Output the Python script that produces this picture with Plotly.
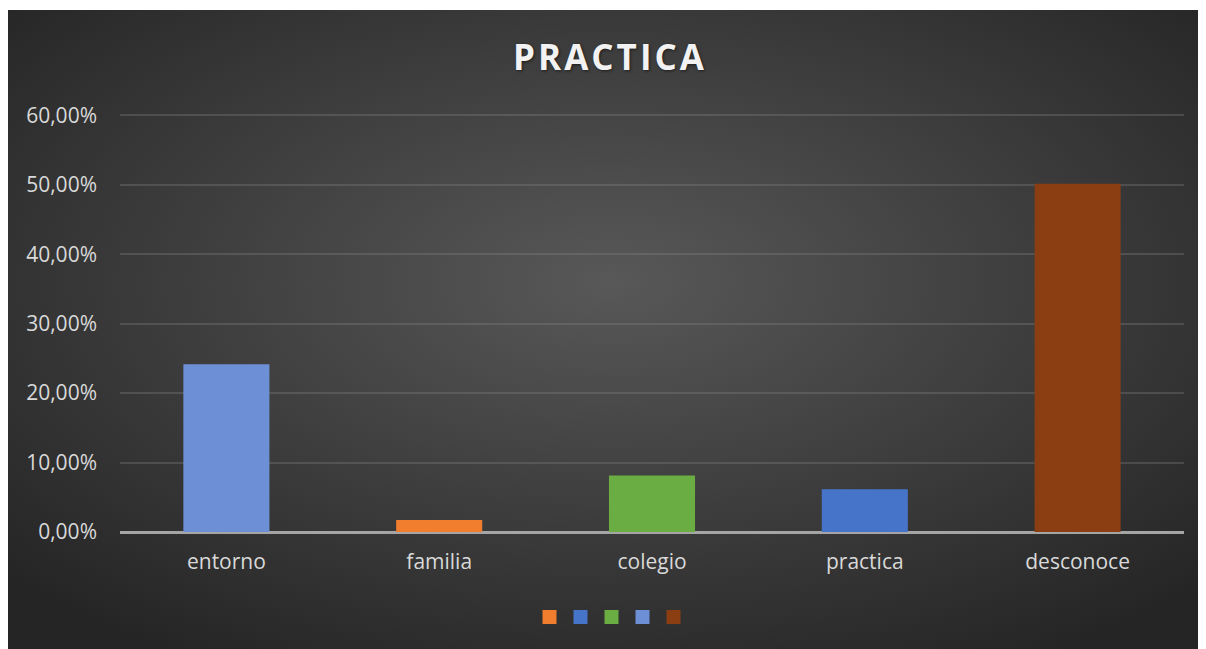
import base64
import plotly.graph_objects as go

# ---- data ----
categories = ["entorno", "familia", "colegio", "practica", "desconoce"]
# legend / series order as in the reference
series_names = ["familia", "practica", "colegio", "entorno", "desconoce"]
series_values = [0.016, 0.06, 0.08, 0.24, 0.50]
series_colors = ["#F07E2E", "#4674C9", "#6AAD42", "#6D8FD6", "#8A3E12"]
y_ticks = [0, 0.1, 0.2, 0.3, 0.4, 0.5, 0.6]
title_text = "PRACTICA"

# ---- background gradient (radial) as SVG image ----
svg = """<svg xmlns='http://www.w3.org/2000/svg' width='1206' height='647' viewBox='0 0 1206 647' preserveAspectRatio='none'>
<defs><radialGradient id='g' cx='50%' cy='42%' r='68%' fx='50%' fy='42%'>
<stop offset='0%' stop-color='#585858'/><stop offset='100%' stop-color='#252525'/></radialGradient></defs>
<rect width='1206' height='647' fill='url(#g)'/></svg>"""
bg_src = "data:image/svg+xml;base64," + base64.b64encode(svg.encode()).decode()

W, H = 1206, 649
L, R, T, B = 112, 30, 106, 125
pw, ph = W - L - R, H - T - B

fig = go.Figure()
for name, val, col in zip(series_names, series_values, series_colors):
    fig.add_trace(go.Bar(
        x=[name], y=[val], name=" ",
        marker=dict(color=col, line=dict(width=2, color=col)),
        width=0.395, showlegend=True, hoverinfo="x+y"))

fig.add_layout_image(dict(
    source=bg_src, xref="paper", yref="paper",
    x=(0 - L) / pw, y=(H - B - 2) / ph,
    sizex=W / pw, sizey=(H - 2) / ph,
    xanchor="left", yanchor="top", sizing="stretch", layer="below"))

# thin white strip at the very top, as in the reference
fig.add_shape(type="rect", xref="paper", yref="paper",
              x0=(0 - L) / pw, x1=(W - L) / pw,
              y0=(H - B - 2) / ph, y1=(H - B) / ph,
              fillcolor="white", line=dict(width=0), layer="below")

fig.update_layout(
    width=W, height=H,
    margin=dict(l=L, r=R, t=T, b=B),
    paper_bgcolor="#262626", plot_bgcolor="rgba(0,0,0,0)",
    barmode="overlay", separators=",.",
    title=dict(
        text="<span style='letter-spacing:3px'>" + title_text + "</span>",
        x=602 / W, xanchor="center", y=1 - 50 / H, yanchor="middle",
        font=dict(family="Open Sans", size=35, color="#F2F2F2", weight="bold",
                  shadow="1px 1px 3px rgba(0,0,0,0.55)")),
    xaxis=dict(
        categoryorder="array", categoryarray=categories,
        showgrid=False, showline=False, zeroline=False,
        ticks="", ticklabelstandoff=15,
        tickfont=dict(family="Open Sans", size=21, color="#D9D9D9")),
    yaxis=dict(
        range=[0, 0.602], tickvals=y_ticks, tickformat=".2%",
        showgrid=True, gridcolor="rgba(135,135,135,0.32)", gridwidth=2,
        zeroline=True, zerolinecolor="#A5A5A5", zerolinewidth=3,
        showline=False, ticks="", ticklabelstandoff=22,
        tickfont=dict(family="Open Sans", size=21, color="#D9D9D9")),
    legend=dict(
        orientation="h", x=(599 - L) / pw, xanchor="center",
        y=(H - B - 609) / ph, yanchor="middle",
        bgcolor="rgba(0,0,0,0)", font=dict(size=12, color="#D9D9D9"),
        itemwidth=30, traceorder="normal",
        entrywidth=31 / pw, entrywidthmode="fraction"),
    showlegend=True,
)

fig.write_html("out.html")
